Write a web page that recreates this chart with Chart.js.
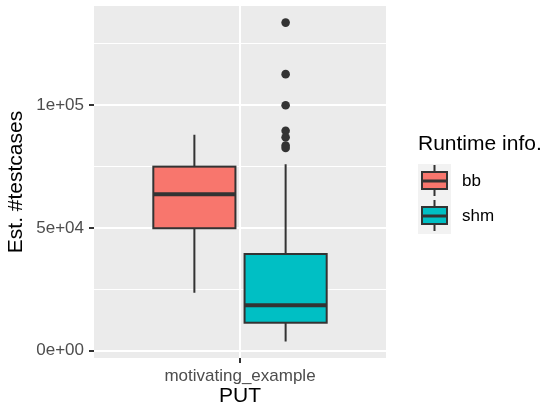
<!DOCTYPE html>
<html>
<head>
<meta charset="utf-8">
<script src="https://cdn.jsdelivr.net/npm/chart.js@4"></script>
<style>
  html, body { margin: 0; padding: 0; background: #fff; }
  #wrap { width: 544px; height: 409px; }
</style>
</head>
<body>
<div id="wrap"><canvas id="boxChart" width="544" height="409"></canvas></div>
<script>
// values
const groupLabel = 'motivating_example';
const series = ['bb', 'shm'];
const seriesColors = ['#F8766D', '#00BFC4'];
const whiskerLow = [23600, 3700];
const boxLow = [49900, 11400];
const medians = [63700, 18500];
const boxHigh = [75000, 39400];
const whiskerHigh = [88000, 76000];
const shmOutliers = [133700, 112700, 100000, 89600, 87000, 83600, 82600];

const yTicks = [0, 50000, 100000];
const yTickLabels = ['0e+00', '5e+04', '1e+05'];
const yMinor = [25000, 75000, 125000];

const xTitle = 'PUT';
const yTitle = 'Est. #testcases';
const legendTitle = 'Runtime info.';

// dodge of the two boxes around x = 1 (ggplot style)
const dodge = [-0.1875, 0.1875];
const halfWidth = 0.16875;

const FONT = '"Liberation Sans", Arial, Helvetica, sans-serif';
const LINE = '#333333';

function drawBox(ctx, left, right, cx, yLo, yQ1, yMed, yQ3, yHi, fill, lw, medW) {
    ctx.strokeStyle = LINE;
    ctx.lineWidth = lw;
    ctx.beginPath();
    ctx.moveTo(cx, yLo); ctx.lineTo(cx, yQ1);
    ctx.moveTo(cx, yQ3); ctx.lineTo(cx, yHi);
    ctx.stroke();
    ctx.fillStyle = fill;
    ctx.fillRect(left, yQ3, right - left, yQ1 - yQ3);
    ctx.strokeRect(left, yQ3, right - left, yQ1 - yQ3);
    ctx.lineWidth = medW;
    ctx.beginPath();
    ctx.moveTo(left, yMed); ctx.lineTo(right, yMed);
    ctx.stroke();
}

const boxPlugin = {
    id: 'boxes',
    beforeDraw(chart) {
        const { ctx, chartArea: a } = chart;
        ctx.save();
        ctx.fillStyle = '#EBEBEB';
        ctx.fillRect(a.left, a.top, a.right - a.left, a.bottom - a.top);
        ctx.restore();
    },
    beforeDatasetsDraw(chart) {
        const { ctx, scales: { x, y } } = chart;
        ctx.save();
        series.forEach((name, i) => {
            const c = 1 + dodge[i];
            drawBox(ctx,
                x.getPixelForValue(c - halfWidth), x.getPixelForValue(c + halfWidth), x.getPixelForValue(c),
                y.getPixelForValue(whiskerLow[i]), y.getPixelForValue(boxLow[i]),
                y.getPixelForValue(medians[i]), y.getPixelForValue(boxHigh[i]),
                y.getPixelForValue(whiskerHigh[i]), seriesColors[i], 2, 4);
        });
        ctx.restore();
    },
    afterDraw(chart) {
        // legend in ggplot style
        const ctx = chart.ctx;
        ctx.save();
        ctx.font = '21px ' + FONT;
        ctx.fillStyle = '#000';
        ctx.textBaseline = 'alphabetic';
        ctx.fillText(legendTitle, 418, 150);
        ctx.fillStyle = '#F2F2F2';
        ctx.fillRect(418, 164, 33, 70);
        series.forEach((name, i) => {
            const cy = 181 + 35 * i;
            drawBox(ctx, 422, 447, 434.5, cy + 15, cy + 8, cy, cy - 9, cy - 16, seriesColors[i], 2, 3);
            ctx.fillStyle = '#000';
            ctx.font = '17px ' + FONT;
            ctx.textBaseline = 'middle';
            ctx.fillText(name, 462, cy);
        });
        ctx.restore();
    }
};

const ctx = document.getElementById('boxChart').getContext('2d');
new Chart(ctx, {
    type: 'scatter',
    data: {
        datasets: [{
            label: 'shm outliers',
            data: shmOutliers.map(v => ({ x: 1 + dodge[1], y: v })),
            backgroundColor: LINE,
            borderColor: LINE,
            pointRadius: 4.3,
            pointHoverRadius: 4.3,
            borderWidth: 0
        }]
    },
    options: {
        responsive: false,
        animation: false,
        devicePixelRatio: 1,
        layout: { padding: { top: 6, right: 158, left: 0, bottom: 0 } },
        plugins: {
            legend: { display: false },
            tooltip: { enabled: false }
        },
        scales: {
            x: {
                type: 'linear',
                min: 0.4,
                max: 1.6,
                afterBuildTicks: scale => { scale.ticks = [{ value: 1 }]; },
                afterFit: scale => { scale.height = 51; scale.paddingLeft = 0; scale.paddingRight = 0; },
                border: { display: false },
                grid: { color: '#FFFFFF', lineWidth: 2, tickColor: LINE, tickLength: 5, tickWidth: 2 },
                ticks: {
                    callback: () => groupLabel,
                    color: '#4D4D4D',
                    font: { family: FONT, size: 17 },
                    padding: 3,
                    maxRotation: 0
                },
                title: {
                    display: true,
                    text: xTitle,
                    color: '#000',
                    font: { family: FONT, size: 21 },
                    padding: { top: 0, bottom: 0 }
                }
            },
            y: {
                type: 'linear',
                min: -2975,
                max: 140460,
                afterBuildTicks: scale => {
                    scale.ticks = yTicks.concat(yMinor).sort((a, b) => a - b).map(v => ({ value: v }));
                },
                afterFit: scale => { scale.width = 94; scale.paddingTop = 0; scale.paddingBottom = 0; },
                border: { display: false },
                grid: {
                    color: '#FFFFFF',
                    lineWidth: c => (c.tick && yTicks.includes(c.tick.value)) ? 2 : 1,
                    tickColor: c => (c.tick && yTicks.includes(c.tick.value)) ? LINE : 'rgba(0,0,0,0)',
                    tickLength: 5,
                    tickWidth: 2
                },
                ticks: {
                    callback: v => {
                        const k = yTicks.indexOf(v);
                        return k >= 0 ? yTickLabels[k] : '';
                    },
                    color: '#4D4D4D',
                    font: { family: FONT, size: 17 },
                    padding: 5
                },
                title: {
                    display: true,
                    text: yTitle,
                    color: '#000',
                    font: { family: FONT, size: 21 },
                    padding: { top: 4, bottom: 0 }
                }
            }
        }
    },
    plugins: [boxPlugin]
});
</script>
</body>
</html>
